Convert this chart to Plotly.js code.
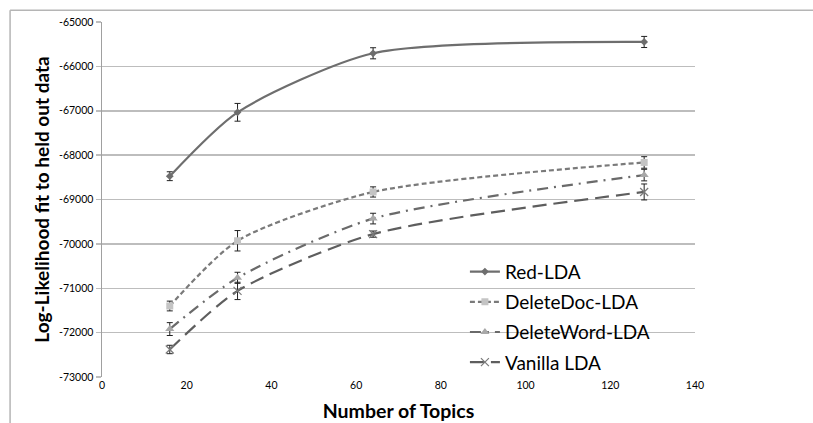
<!DOCTYPE html>
<html>
<head>
<meta charset="utf-8">
<script src="https://cdn.plot.ly/plotly-3.0.1.min.js"></script>
<style>
html,body{margin:0;padding:0;background:#fff;}
#chart{width:813px;height:423px;}
</style>
</head>
<body>
<div id="chart"></div>
<script>
const topics = [16, 32, 64, 128];

const redLDA = [-68475, -67035, -65705, -65450];
const redErr = [100, 200, 125, 125];

const deleteDocLDA = [-71400, -69930, -68830, -68165];
const deleteDocErr = [110, 230, 115, 130];

const deleteWordLDA = [-71920, -70765, -69430, -68450];
const deleteWordErr = [145, 125, 120, 130];

const vanillaLDA = [-72380, -71060, -69780, -68830];
const vanillaErr = [95, 195, 70, 180];

const seriesNames = ["Red-LDA", "DeleteDoc-LDA", "DeleteWord-LDA", "Vanilla LDA"];

const yTicks = [-73000, -72000, -71000, -70000, -69000, -68000, -67000, -66000, -65000];
const xTicks = [0, 20, 40, 60, 80, 100, 120, 140];

function trace(name, ys, errs, lineColor, dash, marker, group) {
  return {
    type: 'scatter',
    mode: 'lines+markers',
    name: name,
    legendgroup: group,
    x: topics,
    y: ys,
    line: {color: lineColor, width: 2.2, dash: dash, shape: 'spline', smoothing: 0.7},
    marker: marker,
    error_y: {type: 'data', array: errs, visible: true, color: '#222', thickness: 1, width: 3}
  };
}

const data = [
  trace(seriesNames[0], redLDA, redErr, '#6e6e6e', 'solid',
        {symbol: 'diamond', size: 6, color: '#6e6e6e'}, 'g1'),
  trace(seriesNames[1], deleteDocLDA, deleteDocErr, '#7a7a7a', '5px,3px',
        {symbol: 'square', size: 7, color: '#c4c4c4'}, 'g2'),
  trace(seriesNames[2], deleteWordLDA, deleteWordErr, '#6a6a6a', '11px,6px,2px,6px',
        {symbol: 'triangle-up', size: 8, color: '#a8a8a8'}, 'g3'),
  trace(seriesNames[3], vanillaLDA, vanillaErr, '#5e5e5e', '14px,7px',
        {symbol: 'x-thin-open', size: 8, color: '#7a7a7a', line: {width: 1.2, color: '#7a7a7a'}}, 'g4')
];

const layout = {
  width: 813,
  height: 423,
  margin: {l: 102, r: 118, t: 22, b: 46},
  paper_bgcolor: '#fff',
  plot_bgcolor: '#fff',
  font: {family: 'Lato, "Open Sans", sans-serif', color: '#000'},
  showlegend: true,
  legend: {
    x: 0.612, y: 0.35, xanchor: 'left', yanchor: 'top',
    bgcolor: 'rgba(0,0,0,0)',
    font: {size: 19, color: '#000', family: 'Lato, sans-serif'},
    tracegroupgap: 2.5,
    traceorder: 'grouped'
  },
  xaxis: {
    range: [0, 140],
    tickvals: xTicks,
    ticktext: xTicks.map(String),
    showgrid: false,
    zeroline: false,
    showline: false,
    ticks: '',
    tickfont: {size: 10.5, color: '#000'},
    title: {text: 'Number of Topics', font: {size: 19.5, color: '#000', family: 'Lato, sans-serif', weight: 'bold'}, standoff: 14},
    fixedrange: true
  },
  yaxis: {
    range: [-73000, -65000],
    tickvals: yTicks,
    ticktext: yTicks.map(String),
    showgrid: true,
    gridcolor: '#bdbdbd',
    gridwidth: 1.5,
    zeroline: false,
    showline: true,
    linecolor: '#a0a0a0',
    linewidth: 1.5,
    ticks: 'outside',
    ticklen: 5,
    tickcolor: '#bdbdbd',
    tickwidth: 1.5,
    tickfont: {size: 10.5, color: '#000'},
    title: {text: 'Log-Likelihood fit to held out data', font: {size: 19, color: '#000', family: 'Lato, sans-serif', weight: 'bold'}, standoff: 4},
    fixedrange: true
  },
  shapes: [
    {type: 'line', xref: 'paper', yref: 'paper', x0: -0.155, x1: 1.25, y0: 1.033, y1: 1.033,
     line: {color: '#b5b5b5', width: 1.5}},
    {type: 'line', xref: 'paper', yref: 'paper', x0: -0.155, x1: -0.155, y0: 1.033, y1: -0.2,
     line: {color: '#b5b5b5', width: 1.5}}
  ]
};

Plotly.newPlot('chart', data, layout, {displayModeBar: false, staticPlot: true});
</script>
</body>
</html>
